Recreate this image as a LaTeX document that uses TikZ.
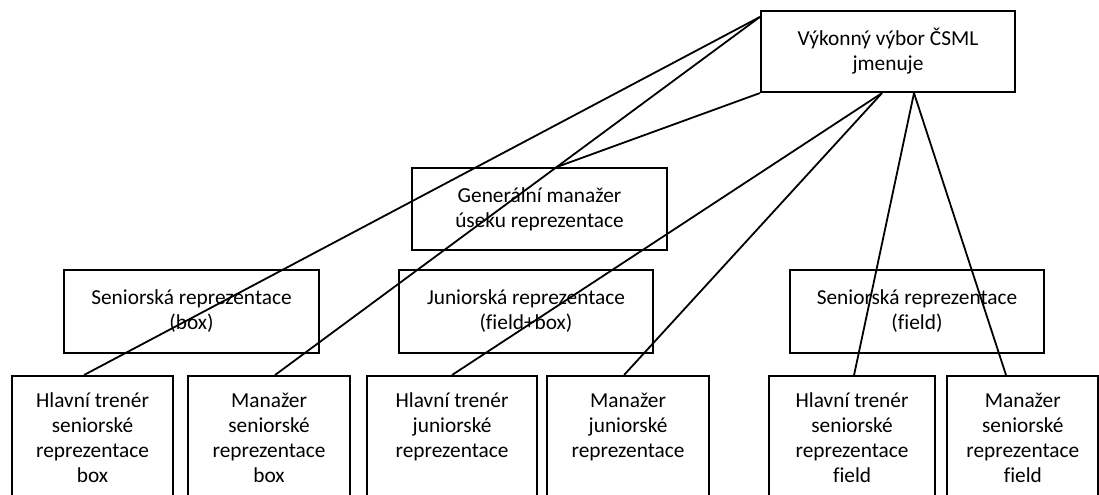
\documentclass[tikz,border=0pt]{standalone}
\usepackage{fontspec}
\setmainfont[Ligatures=NoCommon]{Carlito}
\usepackage{tikz}
\newcommand{\lowtext}[1]{\parbox[t][100pt][t]{110pt}{\centering\rule{0pt}{23.5pt}#1}}

\begin{document}
\begin{tikzpicture}[x=0.75pt,y=-0.75pt,font=\fontsize{16}{18.75}\selectfont,
  box/.style={draw,line width=1.6pt,inner sep=0pt},
  midbox/.style={box,align=center,minimum width=191pt,minimum height=62pt},
  lowbox/.style={box,anchor=north west,minimum height=100pt},
  link/.style={line width=1.35pt}]
\useasboundingbox (0,0) rectangle (1099,495);
\clip (0,0) rectangle (1099,495);
\node[box,align=center,minimum width=190.5pt,minimum height=60.75pt] (vyb) at (888,51.5) {Výkonný výbor ČSML\\jmenuje};
\node[box,align=center,minimum width=191.25pt,minimum height=61.5pt] (gm) at (539.5,209) {Generální manažer\\úseku reprezentace};
\node[midbox] (srb) at (191.5,311.5) {Seniorská reprezentace\\(box)};
\node[midbox] (jrfb) at (526,311.5) {Juniorská reprezentace\\(field+box)};
\node[midbox] (srf) at (917,311.5) {Seniorská reprezentace\\(field)};
\node[lowbox,minimum width=120.75pt] (htsb) at (11,375) {\lowtext{Hlavní trenér\\seniorské\\reprezentace\\box}};
\node[lowbox,minimum width=121.5pt] (msb) at (187,375) {\lowtext{Manažer\\seniorské\\reprezentace\\box}};
\node[lowbox,minimum width=127.5pt] (htj) at (366,375) {\lowtext{Hlavní trenér\\juniorské\\reprezentace}};
\node[lowbox,minimum width=121.5pt] (mj) at (546,375) {\lowtext{Manažer\\juniorské\\reprezentace}};
\node[lowbox,minimum width=124.5pt] (htsf) at (768,375) {\lowtext{Hlavní trenér\\seniorské\\reprezentace\\field}};
\node[lowbox,minimum width=113.6pt] (msf) at (946,375) {\lowtext{Manažer\\seniorské\\reprezentace\\field}};
\draw[link] ([yshift=-5.25pt]vyb.north west) -- ([xshift=-6.4pt]htsb.north);
\draw[link] ([yshift=-5.25pt]vyb.north west) -- ([xshift=4.5pt]msb.north);
\draw[link] (vyb.south west) -- ([xshift=13.1pt]gm.north);
\draw[link] ([xshift=-4.5pt]vyb.south) -- (htj.north);
\draw[link] ([xshift=-4.5pt]vyb.south) -- ([xshift=-3pt]mj.north);
\draw[link] ([xshift=19.5pt]vyb.south) -- ([xshift=1.5pt]htsf.north);
\draw[link] ([xshift=19.5pt]vyb.south) -- ([xshift=-12.6pt]msf.north);
\end{tikzpicture}
\end{document}
